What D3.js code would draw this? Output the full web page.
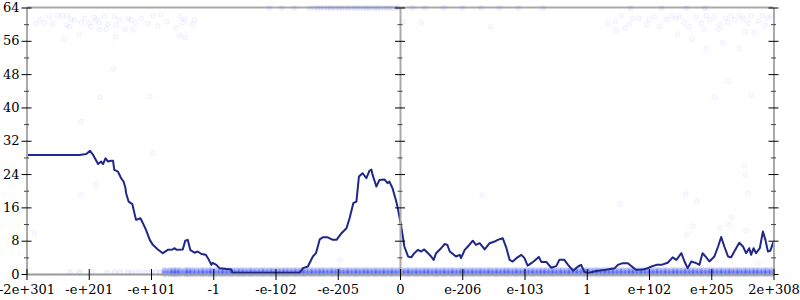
<!DOCTYPE html>
<html>
<head>
<meta charset="utf-8">
<script src="https://cdn.jsdelivr.net/npm/d3@7"></script>
<style>
  body { margin: 0; background: #fff; }
  svg { display: block; }
  .axis text { font-family: "DejaVu Serif", serif; font-size: 13px; fill: #000; }
</style>
</head>
<body>
<div id="chart"></div>
<script>
// x positions are in tick units (0 = -2e+301 ... 12 = 2e+308), ordered by float bit pattern
const xTickLabels = ["-2e+301", "-e+201", "-e+101", "-1", "-e-102", "-e-205", "0",
                     "e-206", "e-103", "1", "e+102", "e+205", "2e+308"]
const yTicks = [0, 8, 16, 24, 32, 40, 48, 56, 64]
const yMinorTicks = [4, 12, 20, 28, 36, 44, 52, 60]

// running error line
const lineX = [0, 0.85, 0.96, 1.02, 1.07, 1.15, 1.2, 1.23, 1.27, 1.31, 1.36, 1.39, 1.41, 1.47, 1.52, 1.56,
  1.59, 1.6, 1.64, 1.7, 1.74, 1.76, 1.83, 1.87, 1.92, 1.98, 2.03, 2.11, 2.19, 2.27, 2.35, 2.38, 2.41,
  2.51, 2.55, 2.59, 2.63, 2.7, 2.75, 2.81, 2.88, 2.93, 2.97, 2.99, 3.05, 3.1, 3.29, 3.31, 4.39, 4.44,
  4.52, 4.6, 4.65, 4.71, 4.76, 4.84, 4.92, 4.98, 5.06, 5.14, 5.19, 5.25, 5.3, 5.34, 5.4, 5.46, 5.51,
  5.54, 5.56, 5.62, 5.67, 5.75, 5.8, 5.83, 5.88, 5.94, 5.97, 6.02, 6.07, 6.13, 6.18, 6.23, 6.29, 6.34,
  6.39, 6.45, 6.5, 6.54, 6.58, 6.66, 6.72, 6.76, 6.8, 6.85, 6.9, 6.96, 6.98, 7.04, 7.09, 7.17, 7.22,
  7.28, 7.36, 7.44, 7.52, 7.57, 7.65, 7.71, 7.76, 7.81, 7.87, 7.95, 8.0, 8.05, 8.11, 8.16, 8.23, 8.27,
  8.35, 8.43, 8.51, 8.56, 8.64, 8.7, 8.78, 8.86, 8.91, 8.96, 9.02, 9.15, 9.31, 9.45, 9.5, 9.58, 9.66,
  9.74, 9.79, 9.9, 9.98, 10.04, 10.12, 10.2, 10.3, 10.38, 10.44, 10.52, 10.57, 10.62, 10.68, 10.76,
  10.81, 10.86, 10.92, 10.97, 11.05, 11.11, 11.16, 11.21, 11.27, 11.32, 11.37, 11.45, 11.51, 11.56,
  11.61, 11.64, 11.68, 11.72, 11.78, 11.83, 11.87, 11.91, 11.95, 12]
const lineY = [28.6, 28.6, 28.8, 29.6, 28.6, 26.4, 27.0, 26.4, 27.8, 27.0, 27.2, 27.2, 25.0, 24.6, 23.0, 22.2,
  20.6, 19.4, 17.4, 16.8, 14.2, 13.0, 13.4, 12.2, 10.6, 8.2, 7.0, 5.9, 5.0, 5.8, 5.9, 6.2, 5.8,
  5.9, 8.0, 8.2, 5.8, 5.1, 5.4, 4.8, 4.6, 3.4, 2.2, 2.7, 2.2, 1.4, 1.1, 0.3, 0.3, 1.4,
  1.8, 4.2, 5.0, 8.3, 8.8, 8.8, 8.2, 8.2, 9.8, 11.0, 13.4, 17.0, 17.4, 23.4, 24.2, 23.0, 24.8,
  25.1, 23.8, 21.0, 22.6, 22.7, 21.8, 22.2, 20.6, 17.4, 15.4, 11.4, 6.6, 4.2, 4.0, 5.0, 5.8, 5.4,
  5.9, 5.0, 4.2, 3.4, 5.0, 6.2, 7.2, 7.0, 5.4, 4.8, 4.2, 4.6, 3.8, 5.8, 6.6, 8.0, 7.0,
  7.4, 5.9, 7.4, 7.8, 8.2, 8.6, 6.2, 3.4, 3.0, 3.8, 4.6, 3.8, 2.0, 2.6, 3.2, 4.1, 2.9,
  2.9, 1.5, 1.9, 3.4, 3.4, 2.2, 0.8, 1.8, 2.2, 0.5, 0.2, 0.7, 1.0, 1.4, 2.2, 2.6, 2.6,
  1.6, 1.0, 1.1, 1.4, 1.8, 2.2, 2.2, 2.7, 4.0, 3.4, 5.0, 3.0, 1.4, 3.0, 2.6,
  2.2, 5.0, 4.0, 3.0, 4.2, 6.6, 8.9, 6.6, 4.2, 4.0, 5.4, 7.5, 6.6, 5.0,
  6.2, 4.6, 6.2, 5.0, 6.2, 10.2, 8.2, 5.4, 5.6, 7.8]

// scattered samples (sparse)
const ptsX = [0.22, 0.16, 0.29, 0.37, 0.42, 0.5, 0.58, 0.66, 0.64, 0.69, 0.72, 0.77, 0.61, 0.85, 0.88, 0.93,
  1.01, 1.04, 1.09, 1.12, 1.17, 1.17, 1.25, 1.28, 1.31, 1.41, 1.44, 1.43, 1.49, 1.59, 1.63, 1.68, 1.71,
  1.75, 1.84, 1.95, 2.03, 2.11, 2.16, 2.25, 2.4, 2.46, 2.5, 2.54, 2.46, 2.55, 2.7, 2.67, 1.4, 1.18, 1.98,
  0.88, 9.34, 9.47, 9.46, 9.55, 9.61, 9.68, 9.74, 9.84, 9.96, 10.0, 10.09, 10.17, 10.28, 10.36, 10.43,
  10.49, 10.46, 10.57, 10.65, 10.69, 10.76, 10.84, 10.88, 10.92, 10.97, 11.05, 11.11, 11.14, 11.18,
  11.23, 11.27, 11.32, 11.37, 11.45, 11.52, 11.55, 11.59, 11.64, 11.69, 11.75, 11.82, 11.86, 11.91,
  11.96, 11.45, 10.92, 11.27, 11.05, 11.64, 11.53, 11.55, 11.59, 10.59, 10.77, 9.53, 11.32, 11.28,
  11.14, 10.7, 10.6, 11.56, 11.75, 6.05, 6.34, 7.45, 2.03, 1.12, 0.88, 0.13, 5.03, 7.32]
const ptsY = [61.2, 60.2, 60.4, 61.8, 60.0, 62.0, 62.1, 62.1, 59.8, 59.4, 61.2, 61.0, 56.4, 57.6, 60.4, 61.4,
  60.2, 59.4, 61.6, 61.0, 60.4, 58.8, 61.8, 58.8, 60.0, 61.8, 59.8, 57.0, 61.0, 58.8, 61.4, 61.0, 58.6,
  60.2, 61.4, 60.2, 62.0, 59.6, 62.2, 60.6, 59.2, 61.8, 60.4, 61.2, 57.2, 56.8, 61.0, 60.0, 49.2, 42.4, 42.6,
  36.6, 60.2, 58.6, 60.6, 62.0, 59.0, 60.0, 61.4, 61.4, 60.0, 61.2, 61.8, 59.4, 61.2, 62.0, 61.4,
  61.8, 57.6, 60.4, 59.4, 56.4, 61.8, 60.2, 58.8, 62.0, 61.0, 61.8, 58.8, 60.0, 55.5,
  61.4, 60.4, 62.0, 61.0, 62.0, 61.4, 58.2, 60.2, 62.0, 58.0, 60.8, 62.0, 59.8, 61.4,
  62.0, 54.2, 54.2, 46.2, 42.4, 43.0, 26.0, 23.8, 19.4, 19.2, 17.5, 16.7, 13.6, 11.8,
  11.0, 11.5, 9.4, 10.4, 2.6, 60.6, 60.4, 59.4, 29.0, 21.5, 19.0, 9.8, 3.4, 19.0]

// samples pinned at the top (64 ulp)
const topBandX = [3.9, 4.1, 4.3, 4.55, 4.62, 4.68, 4.72, 4.78, 4.83, 4.88, 4.92, 4.97, 5.02, 5.07, 5.12, 5.17,
  5.22, 5.27, 5.31, 5.36, 5.41, 5.46, 5.5, 5.55, 5.6, 5.64, 5.69, 5.74, 5.79, 5.83, 5.88, 5.93, 5.97,
  6.2, 6.4, 6.7, 7.0, 7.3, 7.6, 7.9, 8.3, 9.7, 10.2, 10.6, 10.9]
const topBandY = 63.9

// sparse samples near 0 on the far left, then the dense band near 0 and 1 ulp
const bandSparseX = [0.7, 0.85, 1.05, 1.3, 1.42, 1.5, 1.62, 1.7, 1.8, 1.9, 2.0, 2.08, 2.15]
const bandX = [2.22, 2.3, 2.36, 2.41,
  2.47, 2.55, 2.6, 2.66, 2.73, 2.8, 2.86, 2.93, 2.98, 3.05, 3.12, 3.18, 3.25, 3.31, 3.38, 3.44, 3.5,
  3.57, 3.63, 3.7, 3.77, 3.83, 3.9, 3.96, 4.03, 4.1, 4.16, 4.22, 4.29, 4.35, 4.42, 4.48, 4.55, 4.61,
  4.68, 4.74, 4.8, 4.87, 4.93, 5.0, 5.06, 5.13, 5.19, 5.26, 5.32, 5.39, 5.45, 5.51, 5.58, 5.64, 5.71,
  5.77, 5.84, 5.9, 5.97, 6.03, 6.1, 6.16, 6.23, 6.29, 6.36, 6.42, 6.48, 6.55, 6.61, 6.68, 6.74, 6.81,
  6.87, 6.94, 7.0, 7.06, 7.13, 7.19, 7.26, 7.32, 7.39, 7.45, 7.52, 7.58, 7.65, 7.71, 7.77, 7.84, 7.9,
  7.97, 8.03, 8.1, 8.16, 8.23, 8.29, 8.35, 8.42, 8.48, 8.55, 8.61, 8.68, 8.74, 8.81, 8.87, 8.94, 9.0,
  9.06, 9.13, 9.19, 9.26, 9.32, 9.39, 9.45, 9.52, 9.58, 9.65, 9.71, 9.77, 9.84, 9.9, 9.97, 10.03,
  10.1, 10.16, 10.23, 10.29, 10.36, 10.42, 10.48, 10.55, 10.61, 10.68, 10.74, 10.81, 10.87, 10.94,
  11.0, 11.06, 11.13, 11.19, 11.26, 11.32, 11.39, 11.45, 11.52, 11.58, 11.65, 11.71, 11.77, 11.84,
  11.9, 11.97]
const bandLevels = [0, 0.45, 0.9]

const WIDTH = 800
const HEIGHT = 300

const svg = d3.select("#chart")
    .append("svg")
    .attr("width", WIDTH)
    .attr("height", HEIGHT)

const x = d3.scaleLinear()
    .domain([0, 12])
    .range([26.5, 773.5])

const y = d3.scaleLinear()
    .domain([0, 64])
    .range([274, 7.5])

// top frame line
svg.append("line")
    .attr("x1", x(0)).attr("x2", x(12))
    .attr("y1", y(64)).attr("y2", y(64))
    .attr("stroke", "#aaa").attr("stroke-width", 2)

// scatter points
const dots = svg.append("g")

dots.selectAll(".sparse")
    .data(bandSparseX)
    .enter()
    .append("circle")
    .attr("cx", d => x(d))
    .attr("cy", y(0.4))
    .attr("r", 2.5)
    .attr("fill", "rgba(40,60,240,0.06)")
    .attr("stroke", "rgba(40,60,240,0.1)")
    .attr("stroke-width", 0.8)

dots.selectAll(".band")
    .data(bandLevels.flatMap(lv => bandX.map(bx => [bx, lv])))
    .enter()
    .append("circle")
    .attr("cx", d => x(d[0]))
    .attr("cy", d => y(d[1]))
    .attr("r", 3)
    .attr("fill", "rgba(40,60,240,0.26)")
    .attr("stroke", "none")

dots.selectAll(".top")
    .data(topBandX)
    .enter()
    .append("circle")
    .attr("cx", d => x(d))
    .attr("cy", y(topBandY))
    .attr("r", 2.5)
    .attr("fill", "rgba(40,60,240,0.07)")
    .attr("stroke", "rgba(40,60,240,0.08)")
    .attr("stroke-width", 0.8)

dots.selectAll(".pt")
    .data(ptsX.map((px, i) => [px, ptsY[i]]))
    .enter()
    .append("circle")
    .attr("cx", d => x(d[0]))
    .attr("cy", d => y(d[1]))
    .attr("r", 2.5)
    .attr("fill", "rgba(60,60,255,0.03)")
    .attr("stroke", "rgba(60,60,255,0.08)")
    .attr("stroke-width", 0.8)

// error line
const line = d3.line()
    .x(d => x(d[0]))
    .y(d => y(d[1]))

svg.append("path")
    .datum(lineX.map((lx, i) => [lx, lineY[i]]))
    .attr("fill", "none")
    .attr("stroke", "#1f2788")
    .attr("stroke-width", 2)
    .attr("stroke-linejoin", "round")
    .attr("d", line)

// vertical axes: left (labelled), middle and right
function vAxis(xpos, labels) {
    const major = d3.axisLeft(y)
        .tickValues(yTicks)
        .tickSize(5)
        .tickSizeOuter(0)
        .tickPadding(2)
        .tickFormat(labels ? d => d : () => "")
    const g = svg.append("g")
        .attr("class", "axis")
        .attr("transform", "translate(" + xpos + ",0)")
        .call(major)
    g.select(".domain").attr("stroke", "#aaa").attr("stroke-width", 2)
    g.selectAll(".tick line").attr("x1", 5).attr("stroke", "#000")

    const minor = d3.axisLeft(y)
        .tickValues(yMinorTicks)
        .tickSize(2.5)
        .tickFormat(() => "")
    const gm = svg.append("g")
        .attr("transform", "translate(" + xpos + ",0)")
        .call(minor)
    gm.select(".domain").remove()
    gm.selectAll(".tick line").attr("x1", 2.5).attr("stroke", "#444")
}

vAxis(x(0), true)
vAxis(x(6), false)
vAxis(x(12), false)

// bottom axis
const xAxis = d3.axisBottom(x)
    .tickValues(d3.range(xTickLabels.length))
    .tickSize(6)
    .tickSizeOuter(0)
    .tickPadding(5)
    .tickFormat(i => xTickLabels[i])

const gx = svg.append("g")
    .attr("class", "axis")
    .attr("transform", "translate(0," + y(0) + ")")
    .call(xAxis)
gx.select(".domain").attr("stroke", "#999").attr("stroke-width", 2)
gx.selectAll(".tick line").attr("y1", -5).attr("stroke", "#000")
</script>
</body>
</html>
